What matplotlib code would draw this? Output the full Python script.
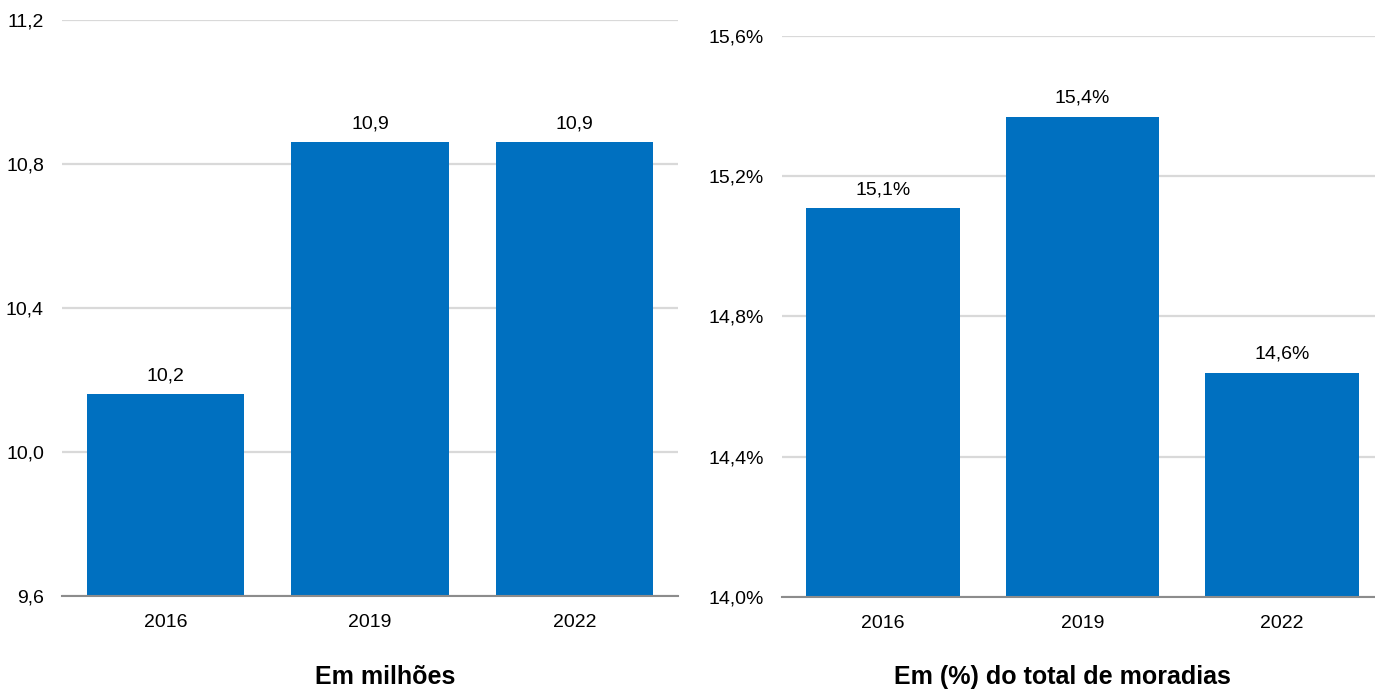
import matplotlib.pyplot as plt
from matplotlib import font_manager

# Data
years = ['2016', '2019', '2022']
millions = [10.16, 10.86, 10.86]
share_pct = [15.11, 15.37, 14.64]
left_title = 'Em milhões'
right_title = 'Em (%) do total de moradias'

names = {f.name for f in font_manager.fontManager.ttflist}
family = ['Liberation Sans Narrow', 'Liberation Sans'] if 'Liberation Sans Narrow' in names else ['Liberation Sans']
plt.rcParams['font.family'] = family

bar_color = '#0070C0'
grid_color = '#D9D9D9'


def fmt(v, pct=False):
    s = f'{v:.1f}'.replace('.', ',')
    return s + '%' if pct else s


def style(ax, ticks, lims, pct):
    ax.set_ylim(*lims)
    ax.set_yticks(ticks)
    ax.set_yticklabels([fmt(t, pct) for t in ticks])
    ax.set_xlim(-0.505, 2.505)
    for s in ['top', 'right', 'left']:
        ax.spines[s].set_visible(False)
    ax.spines['bottom'].set_color('#8C8C8C')
    ax.spines['bottom'].set_linewidth(1.5)
    ax.yaxis.grid(True, color=grid_color, linewidth=1.6)
    ax.set_axisbelow(True)
    ax.tick_params(axis='both', length=0, labelsize=14, colors='#000000')
    ax.tick_params(axis='y', pad=13)
    ax.tick_params(axis='x', pad=13)


fig = plt.figure(figsize=(13.75, 6.92), dpi=100)

ax1 = fig.add_axes([0.0451, 0.1387, 0.448, 0.8324])
bars = ax1.bar(years, millions, width=0.77, color=bar_color)
ax1.bar_label(bars, labels=[fmt(v) for v in millions], padding=7, fontsize=14)
style(ax1, [9.6, 10.0, 10.4, 10.8, 11.2], (9.6, 11.2), False)
fig.text(0.28, 0.005, left_title, ha='center', va='bottom', fontsize=18, fontweight='bold')

ax2 = fig.add_axes([0.5687, 0.1373, 0.437, 0.8107])
bars = ax2.bar(years, share_pct, width=0.77, color=bar_color)
ax2.bar_label(bars, labels=[fmt(v, True) for v in share_pct], padding=7, fontsize=14)
style(ax2, [14.0, 14.4, 14.8, 15.2, 15.6], (14.0, 15.6), True)
fig.text(0.773, 0.005, right_title, ha='center', va='bottom', fontsize=18, fontweight='bold')

fig.savefig('out.png', dpi=100)
